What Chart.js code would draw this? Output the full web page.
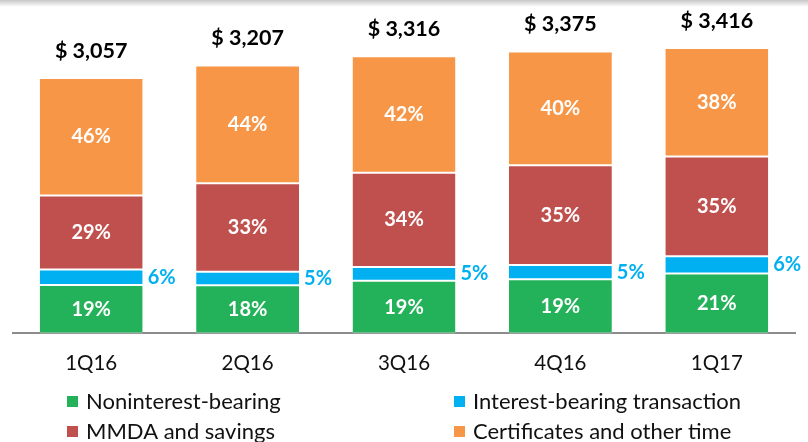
<!DOCTYPE html>
<html>
<head>
<meta charset="utf-8">
<script src="https://cdn.jsdelivr.net/npm/chart.js@4.4.1/dist/chart.umd.min.js"></script>
<style>
  html, body { margin: 0; padding: 0; background: #fff; }
  #wrap { position: relative; width: 808px; height: 442px; }
  #shade { position: absolute; left: 0; top: 0; width: 808px; height: 7px;
           background: linear-gradient(#c8c8c8, rgba(255,255,255,0)); pointer-events: none; }
</style>
</head>
<body>
<div id="wrap">
  <canvas id="myChart" width="808" height="442"></canvas>
  <div id="shade"></div>
</div>
<script>
// --- Data ---
const quarters = ['1Q16', '2Q16', '3Q16', '4Q16', '1Q17'];
const totals = [3057, 3207, 3316, 3375, 3416];
const pctNoninterest = [19, 18, 19, 19, 21];
const pctInterestTrans = [6, 5, 5, 5, 6];
const pctMmda = [29, 33, 34, 35, 35];
const pctCertificates = [46, 44, 42, 40, 38];

const seriesNames = ['Noninterest-bearing', 'Interest-bearing transaction', 'MMDA and savings', 'Certificates and other time'];
const seriesColors = ['#23B15A', '#00B0F0', '#C0504D', '#F79646'];

const FONT = 'Lato, "Open Sans", sans-serif';

// turn a percent share into a dollar slice of that quarter's total
function toDollars(pcts) {
  return pcts.map((p, i) => {
    const sum = pctNoninterest[i] + pctInterestTrans[i] + pctMmda[i] + pctCertificates[i];
    return totals[i] * p / sum;
  });
}

const pctLists = [pctNoninterest, pctInterestTrans, pctMmda, pctCertificates];

// --- labels inside/next to bars, totals on top, custom legend ---
const barLabels = {
  id: 'barLabels',
  afterDatasetsDraw(chart) {
    const ctx = chart.ctx;
    ctx.save();
    ctx.textBaseline = 'middle';
    chart.data.datasets.forEach((ds, di) => {
      const meta = chart.getDatasetMeta(di);
      meta.data.forEach((bar, i) => {
        const label = pctLists[di][i] + '%';
        const cy = (bar.y + bar.base) / 2;
        ctx.font = 'bold 20px ' + FONT;
        if (di === 1) {
          ctx.fillStyle = '#00B0F0';
          ctx.textAlign = 'left';
          ctx.fillText(label, bar.x + bar.width / 2 + 5, cy);
        } else {
          ctx.fillStyle = '#ffffff';
          ctx.textAlign = 'center';
          ctx.fillText(label, bar.x, cy);
        }
      });
    });
    // totals above each stack
    const top = chart.getDatasetMeta(chart.data.datasets.length - 1);
    ctx.fillStyle = '#000';
    ctx.textAlign = 'center';
    ctx.font = 'bold 21.5px ' + FONT;
    top.data.forEach((bar, i) => {
      ctx.fillText('$ ' + totals[i].toLocaleString('en-US'), bar.x, bar.y - 27);
    });

    // legend: two columns, two rows
    const cols = [67, 454];
    const rows = [401, 431];
    const order = [[0, 1], [2, 3]];
    ctx.font = '22px ' + FONT;
    ctx.textAlign = 'left';
    order.forEach((row, r) => {
      row.forEach((si, c) => {
        ctx.fillStyle = seriesColors[si];
        ctx.fillRect(cols[c], rows[r] - 5, 11, 11);
        ctx.fillStyle = '#111';
        ctx.fillText(seriesNames[si], cols[c] + 19, rows[r] + 1);
      });
    });
    ctx.restore();
  }
};

const ctx = document.getElementById('myChart').getContext('2d');
const chart = new Chart(ctx, {
  type: 'bar',
  data: {
    labels: quarters,
    datasets: pctLists.map((p, si) => ({
      label: seriesNames[si],
      data: toDollars(p),
      backgroundColor: seriesColors[si],
      borderColor: '#ffffff',
      borderWidth: { top: 1, bottom: 1, left: 0, right: 0 },
      borderSkipped: false,
      barPercentage: 0.658,
      categoryPercentage: 1.0
    }))
  },
  options: {
    responsive: false,
    animation: false,
    layout: { padding: { left: 13, right: 13, top: 41, bottom: 56 } },
    scales: {
      x: {
        stacked: true,
        grid: { display: false },
        border: { display: true, color: '#8c8c8c', width: 2 },
        ticks: { color: '#111', padding: 10, font: { family: FONT, size: 20.5 } }
      },
      y: {
        stacked: true,
        display: false,
        min: 0,
        max: 3500
      }
    },
    plugins: {
      legend: { display: false },
      tooltip: { enabled: false }
    }
  },
  plugins: [barLabels]
});
</script>
</body>
</html>
